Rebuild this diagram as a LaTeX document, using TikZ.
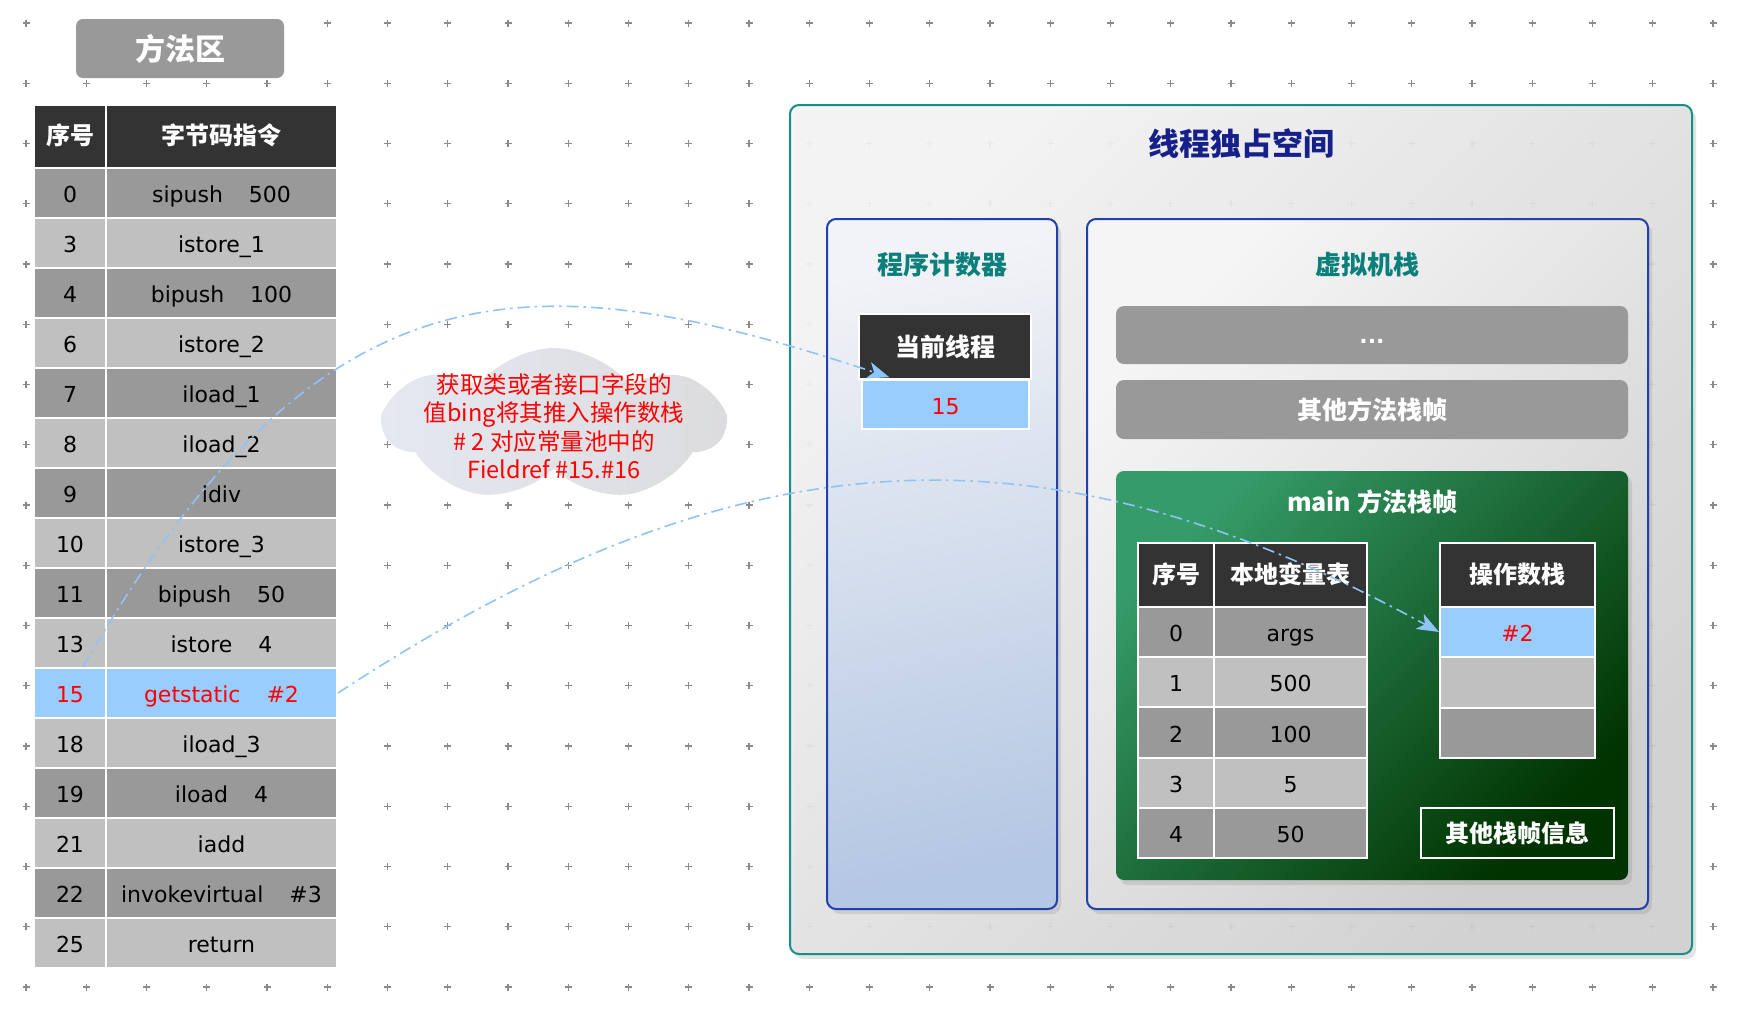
\documentclass[tikz,border=0pt]{standalone}
\usepackage{fontspec}
\setmainfont{DejaVu Sans}
\newfontfamily\cjk{Noto Sans CJK SC}
\usetikzlibrary{shapes.symbols,shadows,calc,arrows.meta}

\definecolor{rowdark}{HTML}{999999}
\definecolor{rowlight}{HTML}{C0C0C0}
\definecolor{headbg}{HTML}{333333}
\definecolor{hlblue}{HTML}{99CCFF}
\definecolor{linkblue}{HTML}{8EC4FA}
\definecolor{tealtitle}{HTML}{0B7F7C}
\definecolor{navytitle}{HTML}{16208A}
\definecolor{tealborder}{HTML}{179089}
\definecolor{blueborder}{HTML}{2042A8}
\definecolor{crossgray}{HTML}{8A8A8A}
\definecolor{cloudL}{HTML}{E4E8F1}
\definecolor{cloudR}{HTML}{DCDCDE}
\definecolor{greenL}{HTML}{359B68}
\definecolor{greenR}{HTML}{003300}
\definecolor{pcTop}{HTML}{F2F3F6}
\definecolor{pcBottom}{HTML}{B4C7E3}

\newcommand\opgap{\hspace{26pt}}
\newcommand\fsz[2]{\fontsize{#1}{#2}\selectfont}

\tikzset{
  grid cross/.style={draw=crossgray, line width=1.2pt},
  cellbase/.style={draw=white, line width=2pt, inner sep=0pt, text=black,
    font=\fsz{22}{26}, text height=21pt, text depth=2pt},
  colA/.style={cellbase, minimum width=72pt, minimum height=50pt},
  colB/.style={cellbase, minimum width=231pt, minimum height=50pt},
  lvA/.style={cellbase, minimum width=76pt, minimum height=50.2pt},
  lvB/.style={cellbase, minimum width=153pt, minimum height=50.2pt},
  opcell/.style={cellbase, minimum width=155pt, minimum height=50.5pt},
  headcell/.style={fill=headbg, text=white, font=\cjk\bfseries\fsz{24}{28},
    text height=19pt, text depth=3pt},
  graybar/.style={fill=rowdark, rounded corners=8pt, minimum width=512pt, inner sep=0pt,
    text=white, font=\cjk\bfseries\fsz{25}{30}},
  paneltitle/.style={font=\cjk\bfseries\fsz{26}{31}, text=tealtitle, inner sep=0pt},
  softshadow/.style={drop shadow={opacity=0.22, shadow xshift=4pt, shadow yshift=-5pt}},
  link/.style={draw=linkblue, line width=1.6pt,
    dash pattern=on 12pt off 5pt on 2.5pt off 5pt,
    -{Stealth[length=22pt,width=17pt,inset=6pt]}},
}

\begin{document}
\begin{tikzpicture}[x=1pt, y=-1pt]
\useasboundingbox (0,0) rectangle (1738,1026);
\fill[white] (0,0) rectangle (1738,1026);

% dotted background grid of small crosses
\foreach \i in {0,...,28}{
  \foreach \j in {0,...,16}{
    \draw[grid cross] (26+60.25*\i-3.5, 23+60.25*\j) -- ++(7,0)
                      (26+60.25*\i, 23+60.25*\j-3.5) -- ++(0,7);
  }
}

% ---------- method area ----------
\node[fill=rowdark, rounded corners=7pt, minimum width=208pt, minimum height=59pt,
      text=white, font=\cjk\bfseries\fsz{30}{36}] (mtitle) at (180,48.5) {方法区};

\node[colA, headcell, minimum height=63pt] (mhA) at (70,136.5) {序号};
\node[colB, headcell, minimum height=63pt] (mhB) at (221.5,136.5) {字节码指令};

\foreach \num/\code/\fc/\tc [count=\k from 0] in {
    0/{sipush\opgap 500}/rowdark/black,
    3/{istore\_1}/rowlight/black,
    4/{bipush\opgap 100}/rowdark/black,
    6/{istore\_2}/rowlight/black,
    7/{iload\_1}/rowdark/black,
    8/{iload\_2}/rowlight/black,
    9/{idiv}/rowdark/black,
    10/{istore\_3}/rowlight/black,
    11/{bipush\opgap 50}/rowdark/black,
    13/{istore\opgap 4}/rowlight/black,
    15/{getstatic\opgap\#2}/hlblue/red,
    18/{iload\_3}/rowlight/black,
    19/{iload\opgap 4}/rowdark/black,
    21/{iadd}/rowlight/black,
    22/{invokevirtual\opgap\#3}/rowdark/black,
    25/{return}/rowlight/black}{
  \node[colA, fill=\fc, text=\tc] (ma\num) at (70, 193+50*\k) {\num};
  \node[colB, fill=\fc, text=\tc] (mb\num) at (221.5, 193+50*\k) {\code};
}

% ---------- note cloud ----------
\node[cloud, cloud puffs=7, cloud puff arc=105, aspect=2.2, draw=none,
      minimum width=338pt, minimum height=154pt, inner sep=0pt,
      left color=cloudL, right color=cloudR] (note) at (554,425) {};
\node[align=center, text=red, font=\cjk\fsz{23.5}{28.5}, inner sep=0pt] (notetext) at (554,426)
  {获取类或者接口字段的\\值bing将其推入操作数栈\\\# 2 对应常量池中的\\Fieldref \#15.\#16};

% ---------- thread private space ----------
\node[draw=tealborder, line width=2pt, rounded corners=9pt,
      minimum width=902pt, minimum height=849pt,
      top color=white!96!black, bottom color=white!82!black, shading angle=45,
      fill opacity=0.9, softshadow] (thread) at (1241,529.5) {};
\node[font=\cjk\bfseries\fsz{31}{37}, text=navytitle, inner sep=0pt] (threadtitle) at (1241,144) {线程独占空间};

% program counter
\node[draw=blueborder, line width=2pt, rounded corners=9pt,
      minimum width=230pt, minimum height=690pt,
      top color=pcTop, bottom color=pcBottom,
      shading angle=12, softshadow] (pc) at (942,564) {};
\node[paneltitle] (pctitle) at (942,265) {程序计数器};
\node[fill=headbg, draw=white, line width=1.5pt, minimum width=172pt, minimum height=65pt,
      inner sep=0pt, text=white, font=\cjk\bfseries\fsz{25}{30}] (pchead) at (945,346.5) {当前线程};
\node[fill=hlblue, draw=white, line width=1.5pt, minimum width=167pt, minimum height=49pt,
      inner sep=0pt, text=red, font=\fsz{22}{26}, text height=21pt, text depth=2pt] (pcval) at (945.5,404.5) {15};

% virtual machine stack
\node[draw=blueborder, line width=2pt, rounded corners=9pt,
      minimum width=561pt, minimum height=690pt,
      top color=white!96!black, bottom color=white!81!black, shading angle=45,
      softshadow] (vms) at (1367.5,564) {};
\node[paneltitle] (vmstitle) at (1367,265) {虚拟机栈};
\node[graybar, minimum height=58pt] (dotsbar) at (1372,335) {};
\node[text=white, font=\bfseries\fsz{22}{26}, inner sep=0pt] (dots) at (1372,341) {...};
\node[graybar, minimum height=59pt] (otherframes) at (1372,409.5) {其他方法栈帧};

% main method frame
\node[rounded corners=8pt, minimum width=512pt, minimum height=409pt,
      top color=greenL, bottom color=greenR, shading angle=45, softshadow] (mainframe) at (1372,675.5) {};
\node[text=white, font=\cjk\bfseries\fsz{25}{30}, inner sep=0pt] (maintitle) at (1372,502) {main 方法栈帧};

% local variable table
\node[lvA, headcell, minimum height=64pt] (lhA) at (1176,575) {序号};
\node[lvB, headcell, minimum height=64pt] (lhB) at (1290.5,575) {本地变量表};
\foreach \idx/\val/\fc [count=\k from 0] in {
    0/args/rowdark, 1/500/rowlight, 2/100/rowdark, 3/5/rowlight, 4/50/rowdark}{
  \node[lvA, fill=\fc] (la\idx) at (1176, 632.1+50.2*\k) {\idx};
  \node[lvB, fill=\fc] (lb\idx) at (1290.5, 632.1+50.2*\k) {\val};
}

% operand stack
\node[opcell, headcell, minimum height=64pt] (oph) at (1517.5,575) {操作数栈};
\node[opcell, fill=hlblue, text=red] (opv) at (1517.5,632) {\#2};
\node[opcell, fill=rowlight] (op1) at (1517.5,682.5) {};
\node[opcell, fill=rowdark] (op2) at (1517.5,733) {};

% other frame info
\node[draw=white, line width=2pt, minimum width=193pt, minimum height=50pt, inner sep=0pt,
      text=white, font=\cjk\bfseries\fsz{24}{28}] (frameinfo) at (1517.5,833) {其他栈帧信息};

% ---------- links ----------
\coordinate (src1) at ($(ma15.north)+(13,0)$);
\coordinate (pcin) at ($(pcval.north west)+(28,-2)$);
\draw[link] (src1) .. controls (320,255) and (530,258) .. (pcin);
\draw[link] (mb15.east) .. controls (737,431) and (1040,414) .. (opv.west);

\end{tikzpicture}
\end{document}
